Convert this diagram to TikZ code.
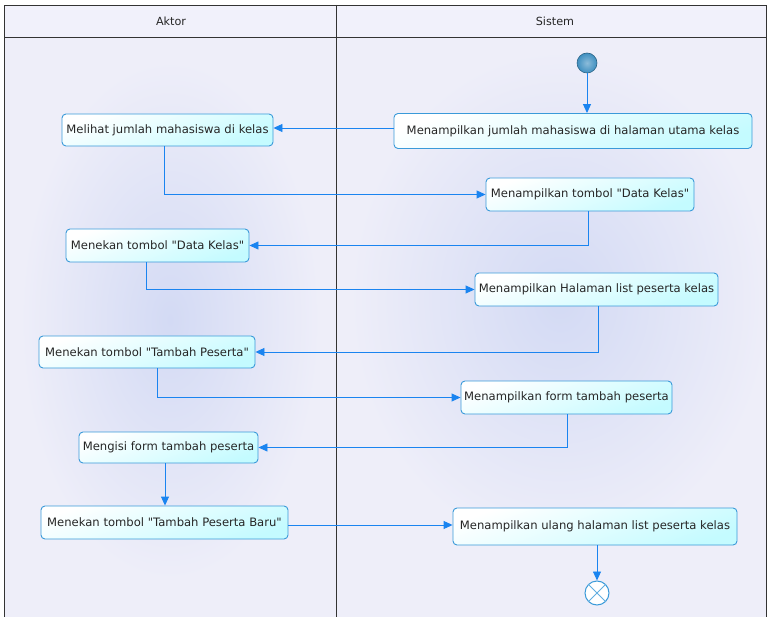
\documentclass[tikz,border=0pt]{standalone}
\usepackage{fontspec}
\setmainfont{DejaVu Sans}[Ligatures=TeXOff]
\usetikzlibrary{arrows.meta}
\definecolor{lanebg}{HTML}{EEEEF9}
\definecolor{laneglow}{HTML}{D3DAF4}
\definecolor{headbg}{HTML}{F1F1FB}
\definecolor{actborder}{HTML}{3A9AD9}
\definecolor{actfill}{HTML}{C4FBFF}
\definecolor{flow}{HTML}{1A84F0}
\definecolor{startfill}{HTML}{3F8FC0}
\begin{document}
\begin{tikzpicture}[x=1pt,y=-1pt,
  act/.style={draw=actborder, line width=0.9pt, rounded corners=4pt,
    top color=white, bottom color=actfill, shading angle=20,
    font=\fontsize{11.6}{13}\selectfont, text=black!85, inner sep=0pt},
  flowline/.style={draw=flow, line width=0.9pt,
    -{Triangle[length=9pt,width=8pt]}},
  lanetitle/.style={font=\fontsize{11.2}{13}\selectfont, text=black!85}]
  \useasboundingbox (0,0) rectangle (768,617);
  % swimlane backgrounds
  \fill[white] (0,0) rectangle (768,617);
  \fill[lanebg] (4,37) rectangle (766,617);
  \shade[inner color=laneglow, outer color=lanebg] (170,320) ellipse (150 and 260);
  \shade[inner color=laneglow, outer color=lanebg] (560,300) ellipse (210 and 250);
  \fill[headbg] (4,5) rectangle (766,37);
  \draw[black!80, line width=0.8pt] (4,617) -- (4,5) -- (766,5) -- (766,617);
  \draw[black!80, line width=0.8pt] (4,37) -- (766,37);
  \draw[black!80, line width=0.8pt] (336,5) -- (336,617);
  \node[lanetitle] (laneA) at (171,21) {Aktor};
  \node[lanetitle] (laneS) at (555,21) {Sistem};

  % start and end
  \node[circle, minimum size=20pt, inner sep=0pt, draw=startfill!70!black,
        line width=0.6pt, inner color=startfill!60, outer color=startfill] (start) at (587,63) {};
  \node[circle, minimum size=24pt, inner sep=0pt, draw=actborder, fill=white,
        line width=1pt] (end) at (597,593) {};
  \draw[actborder!80, line width=0.9pt] (end.45) -- (end.225) (end.135) -- (end.315);

  % activities
  \node[act, minimum width=211pt, minimum height=32pt] (a1) at (167.5,130) {Melihat jumlah mahasiswa di kelas};
  \node[act, minimum width=358pt, minimum height=35pt] (s1) at (573,131) {Menampilkan jumlah mahasiswa di halaman utama kelas};
  \node[act, minimum width=208pt, minimum height=33pt] (s2) at (590,194.5) {Menampilkan tombol "Data Kelas"};
  \node[act, minimum width=183pt, minimum height=33pt] (a2) at (157.5,245.5) {Menekan tombol "Data Kelas"};
  \node[act, minimum width=243pt, minimum height=33pt] (s3) at (596.5,289.5) {Menampilkan Halaman list peserta kelas};
  \node[act, minimum width=216pt, minimum height=32pt] (a3) at (147,352) {Menekan tombol "Tambah Peserta"};
  \node[act, minimum width=211pt, minimum height=33pt] (s4) at (566.5,397.5) {Menampilkan form tambah peserta};
  \node[act, minimum width=179pt, minimum height=31pt] (a4) at (168.5,447.5) {Mengisi form tambah peserta};
  \node[act, minimum width=247pt, minimum height=33pt] (a5) at (164.5,522.5) {Menekan tombol "Tambah Peserta Baru"};
  \node[act, minimum width=284pt, minimum height=37pt] (s5) at (595,526.5) {Menampilkan ulang halaman list peserta kelas};

  % control flow
  \draw[flowline] (start) -- (s1.north -| start);
  \draw[flowline] (s1.west |- 0,128) -- (a1.east |- 0,128);
  \draw[flowline] (a1.south -| 164,0) |- (s2.west);
  \draw[flowline] (s2.south -| 588,0) |- (a2.east);
  \draw[flowline] (a2.south -| 146,0) |- (s3.west);
  \draw[flowline] (s3.south -| 598,0) |- (a3.east);
  \draw[flowline] (a3.south -| 157,0) |- (s4.west);
  \draw[flowline] (s4.south -| 567,0) |- (a4.east);
  \draw[flowline] (a4.south -| 165,0) -- (a5.north -| 165,0);
  \draw[flowline] (a5.east |- 0,525) -- (s5.west |- 0,525);
  \draw[flowline] (s5.south -| end) -- (end.north);
\end{tikzpicture}
\end{document}
